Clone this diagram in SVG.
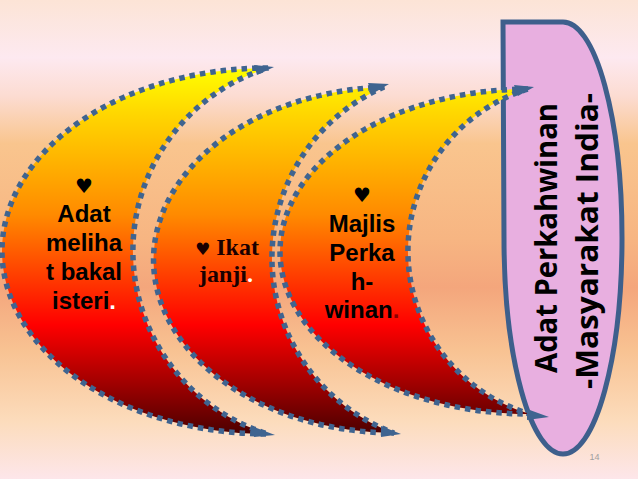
<svg xmlns="http://www.w3.org/2000/svg" width="638" height="479" viewBox="0 0 638 479">
<defs>
<linearGradient id="bg" x1="0" y1="0" x2="0" y2="479" gradientUnits="userSpaceOnUse">
<stop offset="0" stop-color="#fce4d6"/>
<stop offset="0.12" stop-color="#fde9f0"/>
<stop offset="0.2" stop-color="#fcdcd2"/>
<stop offset="0.3" stop-color="#f9c58e"/>
<stop offset="0.5" stop-color="#f7b582"/>
<stop offset="0.6" stop-color="#f4a67c"/>
<stop offset="0.73" stop-color="#f8c292"/>
<stop offset="0.88" stop-color="#fcdcbc"/>
<stop offset="1" stop-color="#fde6ea"/>
</linearGradient>
<linearGradient id="moon" x1="0" y1="68" x2="0" y2="435" gradientUnits="userSpaceOnUse">
<stop offset="0" stop-color="#ffff00"/>
<stop offset="0.12" stop-color="#ffd800"/>
<stop offset="0.4" stop-color="#ff8a00"/>
<stop offset="0.7" stop-color="#ff0000"/>
<stop offset="0.86" stop-color="#a00000"/>
<stop offset="1" stop-color="#4a0000"/>
</linearGradient>
<style>
.moon{fill:url(#moon);stroke:#3f6490;stroke-width:5.5;stroke-dasharray:5.5 5;}
.tip{fill:#3f6490;}
.sans{font-family:"Liberation Sans",Arial,sans-serif;font-weight:bold;font-size:24px;fill:#000;text-anchor:middle;}
.serif{font-family:"Liberation Serif","Times New Roman",serif;font-weight:bold;font-size:24px;fill:#1a0000;text-anchor:middle;}
.heart{font-family:"DejaVu Sans",sans-serif;font-size:20px;fill:#000;text-anchor:middle;}
.title{font-family:"Open Sans","Noto Sans",sans-serif;font-weight:bold;font-size:30px;fill:#000;text-anchor:middle;}
</style>
</defs>
<rect x="0" y="0" width="638" height="479" fill="url(#bg)"/>

<g id="title-shape">
<path d="M503,22 H563 A59,216 0 0 1 622,238 A59,216 0 0 1 563,454 A59,216 0 0 1 504,238 Z" fill="#e8afe0" stroke="#3e5f8c" stroke-width="5" stroke-linejoin="miter"/>
<text class="title" transform="translate(557,238) rotate(-90)" textLength="270" lengthAdjust="spacingAndGlyphs">Adat Perkahwinan</text>
<text class="title" transform="translate(598,241) rotate(-90)" textLength="296" lengthAdjust="spacingAndGlyphs">-Masyarakat India-</text>
</g>

<g id="moon1">
<path class="moon" d="M268,68 A266,183 0 0 0 268,434 A191.5,191.5 0 0 1 268,68 Z"/>
<polygon class="tip" points="254,65 274,67 257,75"/>
<polygon class="tip" points="254,427 275,435 254,437"/>
<text class="heart" x="84" y="193">♥</text>
<text class="sans" x="84" y="222">Adat</text>
<text class="sans" x="84" y="251">meliha</text>
<text class="sans" x="84" y="280">t bakal</text>
<text class="sans" x="84" y="309">isteri<tspan fill="#ffffff">.</tspan></text>
</g>

<g id="moon2">
<path class="moon" d="M384,87 A242,173.1 0 0 0 394,433 A186.5,186.5 0 0 1 384,87 Z"/>
<polygon class="tip" points="368,83 389,84 372,94"/>
<polygon class="tip" points="381,426 401,434 381,437"/>
<text class="serif" x="227" y="255"><tspan font-family="DejaVu Sans" font-size="17" font-weight="normal">♥</tspan> Ikat</text>
<text class="serif" x="226" y="282">janji<tspan fill="#ffffff">.</tspan></text>
</g>

<g id="moon3">
<path class="moon" d="M528,89 A249,162.5 0 0 0 530,414 A169.6,169.6 0 0 1 528,89 Z"/>
<polygon class="tip" points="514,85 534,87 518,96"/>
<polygon class="tip" points="527,409 549,417 527,420"/>
<text class="heart" x="362" y="202">♥</text>
<text class="sans" x="362" y="232">Majlis</text>
<text class="sans" x="362" y="261">Perka</text>
<text class="sans" x="362" y="290">h-</text>
<text class="sans" x="362" y="318">winan<tspan fill="#8a0000">.</tspan></text>
</g>

<text x="594.5" y="460" font-family="Liberation Sans,Arial,sans-serif" font-size="9" fill="#a0a0a0" text-anchor="middle">14</text>
</svg>
